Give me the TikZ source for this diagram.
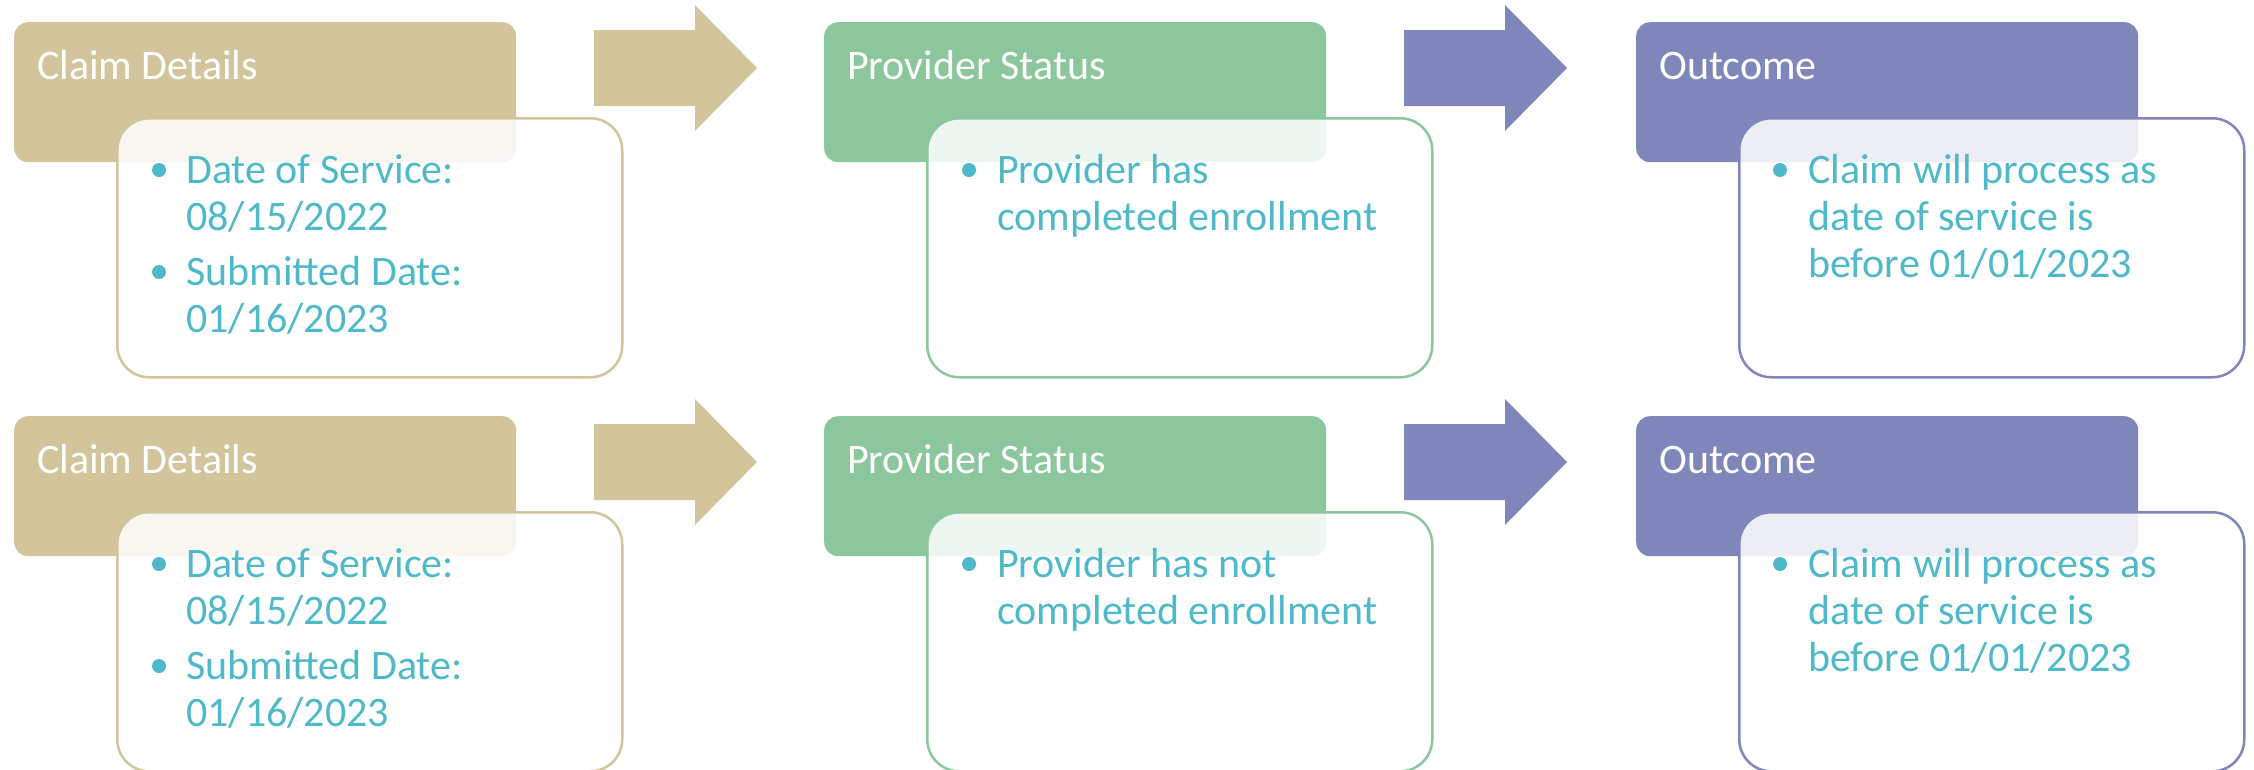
\documentclass[tikz,border=0pt]{standalone}
\usepackage{fontspec}
\setmainfont{Carlito}
\definecolor{tanc}{HTML}{D2C49B}
\definecolor{greenc}{HTML}{8BC69C}
\definecolor{purplec}{HTML}{7E86BA}
\definecolor{tealc}{HTML}{4FB9C9}
\tikzset{
  hdr/.style={rounded corners=14pt, fill=#1, draw=none, minimum width=502pt, minimum height=140pt, anchor=north west, inner sep=0pt},
  bodybox/.style={rounded corners=32pt, draw=#1, line width=2.5pt, fill=white, fill opacity=0.86, minimum width=505pt, minimum height=259pt, anchor=north west, inner sep=0pt},
  hdrtext/.style={text=white, font=\fontsize{42}{50}\selectfont, anchor=base west, inner sep=0pt},
  itemtext/.style={text=tealc, font=\fontsize{42}{47}\selectfont, anchor=base west, inner sep=0pt, align=left},
  bul/.style={fill=tealc, draw=none},
  arr/.style={fill=#1, draw=none}
}
\newcommand{\arrowat}[3]{% x0, y0, color
  \fill[arr=#3] (#1+580,#2+30) -- (#1+681,#2+30) -- (#1+681,#2+5) -- (#1+743,#2+68)
     -- (#1+681,#2+131) -- (#1+681,#2+106) -- (#1+580,#2+106) -- cycle;}
\begin{document}
\begin{tikzpicture}[x=1pt,y=-1pt]
\useasboundingbox (0,0) rectangle (2254,769);
% ---------- Row 1 ----------
\node[hdr=tanc] (h11) at (14,22) {};
\node[hdr=greenc] (h12) at (824,22) {};
\node[hdr=purplec] (h13) at (1636,22) {};
\arrowat{14}{0}{tanc}
\arrowat{824}{0}{purplec}
\node[bodybox=tanc] (b11) at (116,117) {};
\node[bodybox=greenc] (b12) at (926,117) {};
\node[bodybox=purplec] (b13) at (1738,117) {};
\node[hdrtext] (t11) at (37,79) {Claim Details};
\node[hdrtext] (t12) at (847,79) {Provider Status};
\node[hdrtext] (t13) at (1659,79) {Outcome};
\fill[bul] (159,170) circle (7pt);
\fill[bul] (159,272) circle (7pt);
\node[itemtext] (i11a) at (186,230) {Date of Service:\\08/15/2022};
\node[itemtext] (i11b) at (186,332) {Submitted Date:\\01/16/2023};
\fill[bul] (969,170) circle (7pt);
\node[itemtext] (i12) at (997,230) {Provider has\\completed enrollment};
\fill[bul] (1780,170) circle (7pt);
\node[itemtext] (i13) at (1808,277) {Claim will process as\\date of service is\\before 01/01/2023};
% ---------- Row 2 ----------
\node[hdr=tanc] (h21) at (14,416) {};
\node[hdr=greenc] (h22) at (824,416) {};
\node[hdr=purplec] (h23) at (1636,416) {};
\arrowat{14}{394}{tanc}
\arrowat{824}{394}{purplec}
\node[bodybox=tanc] (b21) at (116,511) {};
\node[bodybox=greenc] (b22) at (926,511) {};
\node[bodybox=purplec] (b23) at (1738,511) {};
\node[hdrtext] (t21) at (37,473) {Claim Details};
\node[hdrtext] (t22) at (847,473) {Provider Status};
\node[hdrtext] (t23) at (1659,473) {Outcome};
\fill[bul] (159,564) circle (7pt);
\fill[bul] (159,666) circle (7pt);
\node[itemtext] (i21a) at (186,624) {Date of Service:\\08/15/2022};
\node[itemtext] (i21b) at (186,726) {Submitted Date:\\01/16/2023};
\fill[bul] (969,564) circle (7pt);
\node[itemtext] (i22) at (997,624) {Provider has not\\completed enrollment};
\fill[bul] (1780,564) circle (7pt);
\node[itemtext] (i23) at (1808,671) {Claim will process as\\date of service is\\before 01/01/2023};
\end{tikzpicture}
\end{document}
